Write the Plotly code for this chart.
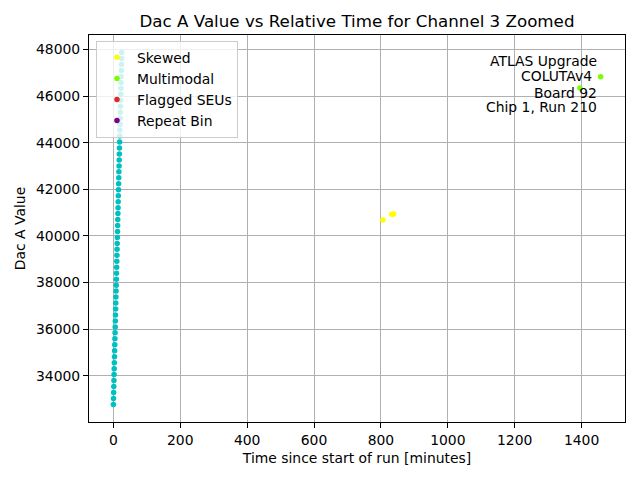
import plotly.graph_objects as go

# DAC scan for channel 3 (time in minutes since start of run)
scan_times = [
    0.0, 0.4, 0.8, 1.3, 1.7, 2.1, 2.5, 2.9, 3.4, 3.8,
    4.2, 4.6, 5.1, 5.5, 5.9, 6.3, 6.8, 7.2, 7.6, 8.0,
    8.5, 8.9, 9.3, 9.7, 10.2, 10.6, 11.0, 11.4, 11.9, 12.3,
    12.7, 13.1, 13.6, 14.0, 14.4, 14.8, 15.3, 15.7, 16.1, 16.5,
    17.0, 17.4, 17.8, 18.2, 18.7, 19.1, 19.5, 19.9, 20.4, 20.8,
    21.2, 21.6, 22.1, 22.5, 22.9, 23.3, 23.8, 24.2, 24.6, 25.0,
]
scan_dac = [
    32768, 33024, 33280, 33536, 33792, 34048, 34304, 34560, 34816, 35072,
    35328, 35584, 35840, 36096, 36352, 36608, 36864, 37120, 37376, 37632,
    37888, 38144, 38400, 38656, 38912, 39168, 39424, 39680, 39936, 40192,
    40448, 40704, 40960, 41216, 41472, 41728, 41984, 42240, 42496, 42752,
    43008, 43264, 43520, 43776, 44032, 44288, 44544, 44800, 45056, 45312,
    45568, 45824, 46080, 46336, 46592, 46848, 47104, 47360, 47616, 47872,
]

skewed_times = [806, 832, 838]
skewed_dac = [40680, 40930, 40940]

multimodal_times = [1395, 1457]
multimodal_dac = [46350, 46830]

# no flagged SEUs / repeat bins in this window
seu_times = []
seu_dac = []

repeat_times = []
repeat_dac = []

info_lines = ["ATLAS Upgrade", "COLUTAv4 ", "Board 92", "Chip 1, Run 210"]

FONT = "DejaVu Sans"


def pts(xs, ys):
    # empty traces still need a placeholder to get a legend entry
    if not xs:
        return [None], [None]
    return xs, ys


fig = go.Figure()
fig.add_trace(go.Scatter(x=scan_times, y=scan_dac, mode="markers", showlegend=False,
                         marker=dict(color="#00bfbf", size=5.5)))
for (xs, ys), name, color in [
    (pts(skewed_times, skewed_dac), "Skewed", "#ffff00"),
    (pts(multimodal_times, multimodal_dac), "Multimodal", "#7cfc00"),
    (pts(seu_times, seu_dac), "Flagged SEUs", "#e0282c"),
    (pts(repeat_times, repeat_dac), "Repeat Bin", "#800080"),
]:
    fig.add_trace(go.Scatter(x=xs, y=ys, mode="markers", name=name,
                             marker=dict(color=color, size=5.5)))

# info box, one line per annotation (right aligned)
line_y = [0.934, 0.893, 0.851, 0.813]
line_x = [0.951, 0.943, 0.951, 0.951]
for txt, xx, yy in zip(info_lines, line_x, line_y):
    fig.add_annotation(text=txt.strip(), xref="paper", yref="paper", x=xx, y=yy,
                       xanchor="right", yanchor="middle", showarrow=False,
                       font=dict(family=FONT, size=13.9, color="black"))

axis_style = dict(
    showline=True, mirror=True, linecolor="black", linewidth=1,
    ticks="outside", ticklen=5, tickwidth=1, tickcolor="black",
    showgrid=True, gridcolor="#b0b0b0", gridwidth=1.1, zeroline=False,
    automargin=False,
    tickfont=dict(family=FONT, size=13.9, color="black"),
)

fig.update_xaxes(range=[-72.85, 1529.85], tickvals=[0, 200, 400, 600, 800, 1000, 1200, 1400],
                 title=dict(text="Time since start of run [minutes]", standoff=6,
                            font=dict(family=FONT, size=13.9, color="black")),
                 **axis_style)
fig.update_yaxes(range=[32013, 48627], tickvals=[34000, 36000, 38000, 40000, 42000, 44000, 46000, 48000],
                 tickformat="d",
                 title=dict(text="Dac A Value", standoff=7,
                            font=dict(family=FONT, size=13.9, color="black")),
                 **axis_style)

# page body adds an 8px offset, so margins are shifted to compensate
fig.update_layout(
    width=640, height=480,
    margin=dict(l=81, r=23, t=27, b=66),
    paper_bgcolor="white", plot_bgcolor="white",
    font=dict(family=FONT, size=13.9, color="black"),
    title=dict(text="Dac A Value vs Relative Time for Channel 3 Zoomed", xref="paper", x=0.5,
               xanchor="center", y=0.973, yanchor="middle",
               font=dict(family=FONT, size=16.7, color="black")),
    legend=dict(x=0.013, y=0.985, xanchor="left", yanchor="top",
                bgcolor="rgba(255,255,255,0.8)", bordercolor="#cccccc", borderwidth=1,
                font=dict(family=FONT, size=13.9, color="black")),
    showlegend=True,
)

fig.write_html("out.html")
